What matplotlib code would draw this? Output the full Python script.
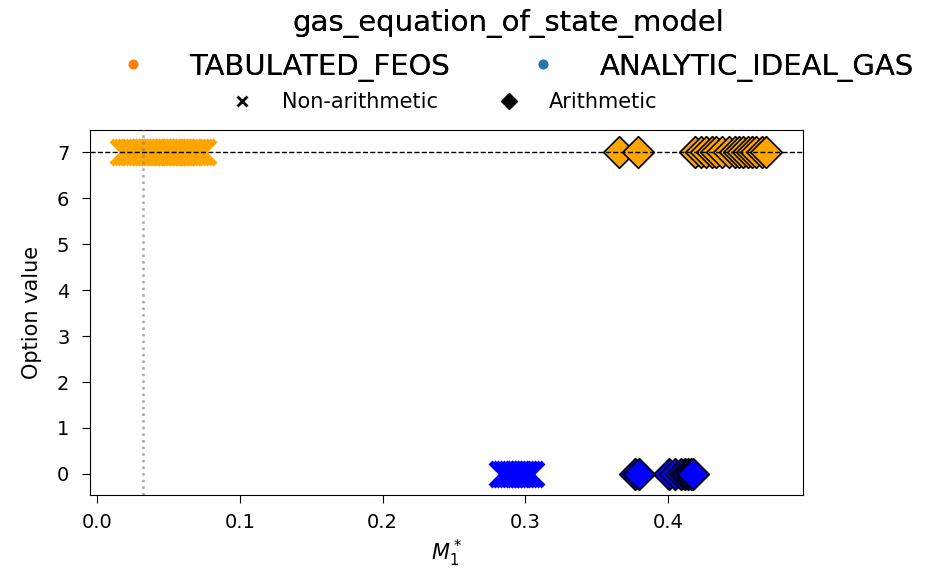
import numpy as np
import matplotlib.pyplot as plt
from matplotlib.lines import Line2D

# option values per model: TABULATED_FEOS -> 7, ANALYTIC_IDEAL_GAS -> 0
feos_nonarith = [0.018, 0.020, 0.022, 0.024, 0.026, 0.028, 0.030, 0.032, 0.034,
                 0.036, 0.038, 0.040, 0.042, 0.044, 0.046, 0.048, 0.050, 0.052,
                 0.054, 0.056, 0.058, 0.060, 0.062, 0.064, 0.066, 0.068, 0.070,
                 0.072, 0.074]
feos_arith = [0.366, 0.379, 0.419, 0.423, 0.427, 0.431, 0.434, 0.438, 0.443,
              0.447, 0.450, 0.453, 0.456, 0.459, 0.462, 0.466, 0.469]
ideal_nonarith = [0.284, 0.286, 0.288, 0.290, 0.292, 0.294, 0.296, 0.298,
                  0.300, 0.302, 0.304]
ideal_arith = [0.377, 0.380, 0.401, 0.405, 0.409, 0.412, 0.414, 0.416, 0.418]
feos_val = 7
ideal_val = 0
chosen_x = 0.032

fig = plt.figure(figsize=(9.3, 5.71), dpi=100)
ax = fig.add_axes([0.097, 0.133, 0.766, 0.639])

ax.scatter(feos_nonarith, [feos_val] * len(feos_nonarith), marker='x', s=300,
           linewidths=4, color='orange', zorder=2)
ax.scatter(ideal_nonarith, [ideal_val] * len(ideal_nonarith), marker='x', s=300,
           linewidths=4, color='blue', zorder=2)
ax.scatter(feos_arith, [feos_val] * len(feos_arith), marker='D', s=260,
           color='orange', edgecolors='black', linewidths=1.2, zorder=2)
ax.scatter(ideal_arith, [ideal_val] * len(ideal_arith), marker='D', s=260,
           color='blue', edgecolors='black', linewidths=1.2, zorder=2)

ax.axhline(feos_val, color='black', linestyle='--', linewidth=1, zorder=3)
ax.axvline(chosen_x, color='grey', linestyle=':', linewidth=1.8, alpha=0.7, zorder=3)

ax.set_xlim(-0.005, 0.4945)
ax.set_ylim(-0.46, 7.48)
ax.set_yticks(range(0, 8))
ax.tick_params(labelsize=14, length=6)
ax.tick_params(axis='y', pad=9)
ax.tick_params(axis='x', pad=7)
ax.set_xlabel('$M_1^*$', fontsize=15, labelpad=4)
ax.set_ylabel('Option value', fontsize=15, labelpad=11)

model_handles = [
    Line2D([], [], marker='o', linestyle='', color='#ff7f0e', markersize=6),
    Line2D([], [], marker='o', linestyle='', color='#1f77b4', markersize=6),
]
leg1 = fig.legend(model_handles, ['TABULATED_FEOS', 'ANALYTIC_IDEAL_GAS'],
                  title='gas_equation_of_state_model', ncol=2, frameon=False,
                  fontsize=21, title_fontsize=21, loc='upper center',
                  bbox_to_anchor=(0.547, 1.015), columnspacing=2.2,
                  handletextpad=0.93, borderaxespad=0.2)

type_handles = [
    Line2D([], [], marker='x', linestyle='', color='black', markersize=7,
           markeredgewidth=2),
    Line2D([], [], marker='D', linestyle='', color='black', markersize=8),
]
fig.legend(type_handles, ['Non-arithmetic', 'Arithmetic'], ncol=2,
           frameon=False, fontsize=15, loc='upper center',
           bbox_to_anchor=(0.4726, 0.872), columnspacing=2.4, handletextpad=0.92)
fig.add_artist(leg1)

fig.savefig('out.png', dpi=100)
